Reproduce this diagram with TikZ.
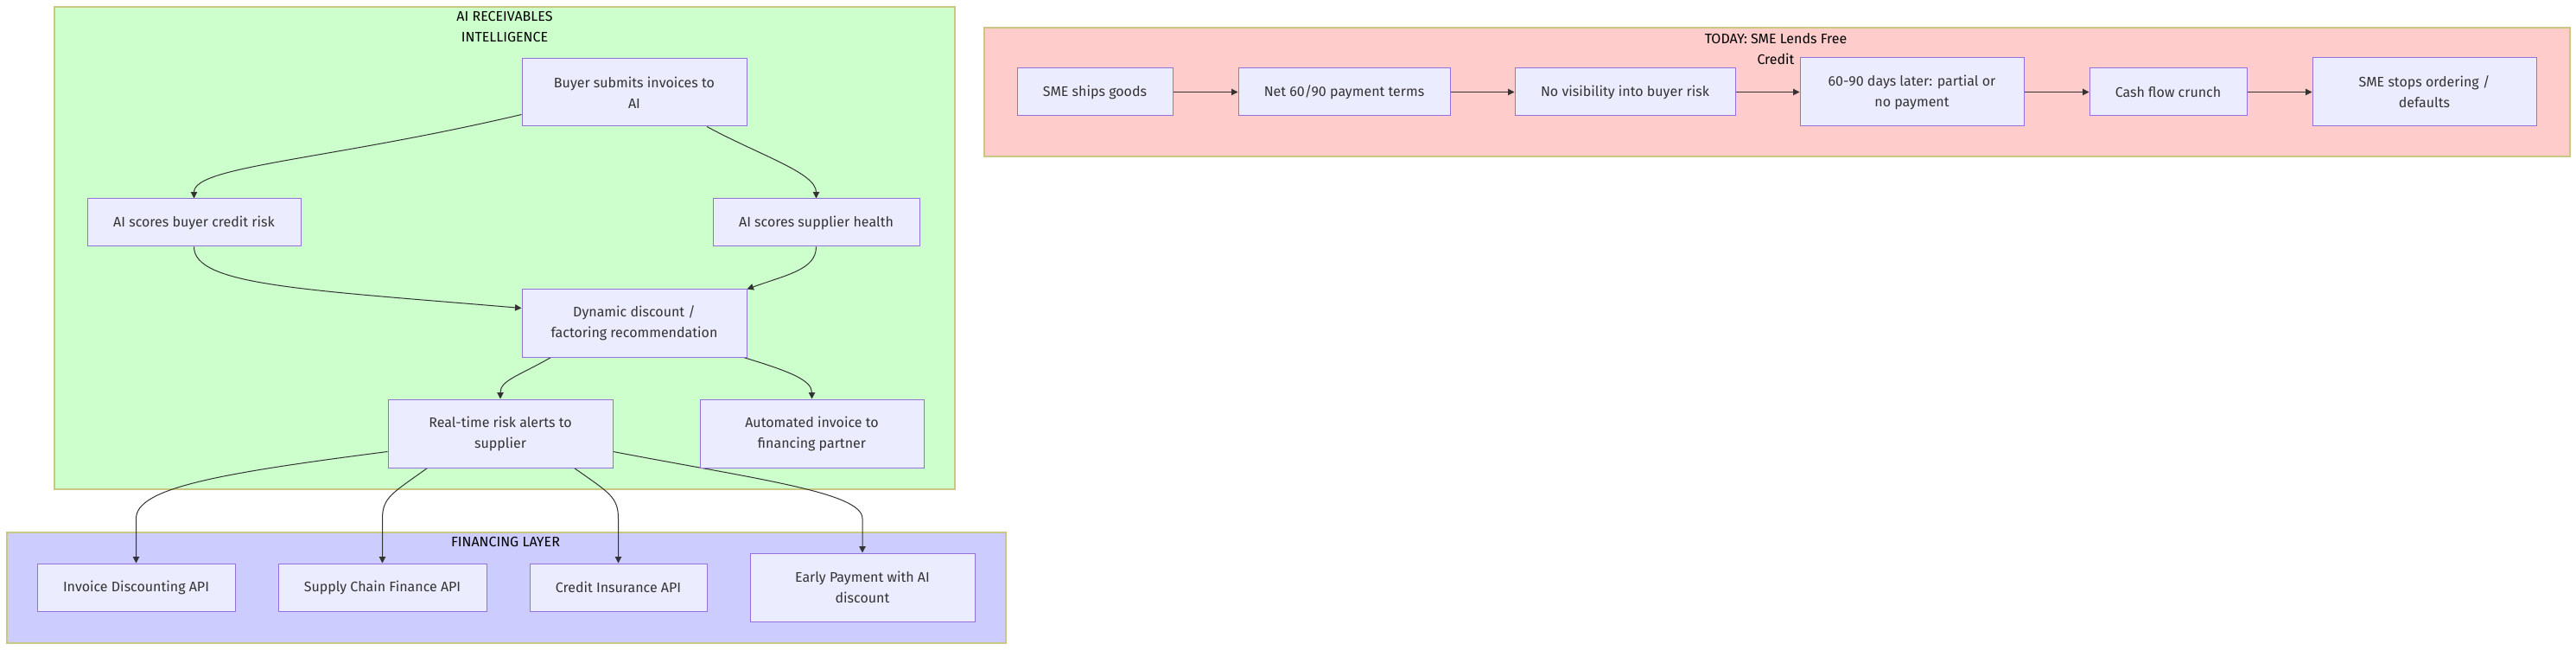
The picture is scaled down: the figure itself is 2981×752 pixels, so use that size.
\documentclass[tikz,border=0pt]{standalone}
\usepackage{fontspec}
\setmainfont{Fira Sans}
\usetikzlibrary{arrows.meta,calc}
\definecolor{nodefill}{HTML}{ECECFF}
\definecolor{nodeline}{HTML}{9370DB}
\definecolor{grn}{HTML}{CCFFCC}
\definecolor{rd}{HTML}{FFCCCC}
\definecolor{bl}{HTML}{CCCCFF}
\definecolor{clline}{HTML}{C8C882}
\definecolor{txt}{HTML}{333333}
\pgfdeclarelayer{bg}
\pgfdeclarelayer{edgelayer}
\pgfsetlayers{bg,edgelayer,main}
\tikzset{
  box/.style={draw=nodeline, fill=nodefill, line width=0.75pt, text=txt,
    font=\fontsize{12}{18}\selectfont, align=center, inner sep=0pt},
  cluster/.style={draw=clline, line width=1.5pt},
  ttl/.style={text=black, font=\fontsize{12}{18}\selectfont, align=center, inner sep=0pt},
  edge/.style={draw=txt, line width=0.75pt, -{Triangle[length=5.6pt,width=5.6pt]}}
}
\begin{document}
\begin{tikzpicture}[x=0.75pt,y=-0.75pt]
\useasboundingbox (0,0) rectangle (2981,752);
% clusters
\begin{pgfonlayer}{bg}
\fill[white] (0,0) rectangle (2981,752);
\draw[cluster, fill=grn] (63,8) rectangle (1105,566);
\draw[cluster, fill=bl] (8,616) rectangle (1164,744);
\draw[cluster, fill=rd] (1139,32) rectangle (2974,181);
\end{pgfonlayer}
\node[ttl] (gt) at (584,31) {AI RECEIVABLES\\INTELLIGENCE};
\node[ttl] (bt) at (585,627) {FINANCING LAYER};
\node[ttl] (rt0) at (2055,57) {TODAY: SME Lends Free\\Credit};
% green nodes
\node[box, minimum width=195pt, minimum height=58.5pt] (buyer) at (734,107) {Buyer submits invoices to\\AI};
\node[box, minimum width=185.25pt, minimum height=41.25pt] (bcr) at (224.5,257.5) {AI scores buyer credit risk};
\node[box, minimum width=179.25pt, minimum height=41.25pt] (sh) at (944.5,257.5) {AI scores supplier health};
\node[box, minimum width=195pt, minimum height=58.5pt] (dyn) at (734,374) {Dynamic discount /\\factoring recommendation};
\node[box, minimum width=195pt, minimum height=59.25pt] (rt) at (579,501.5) {Real-time risk alerts to\\supplier};
\node[box, minimum width=194.25pt, minimum height=59.25pt] (auto) at (939.5,501.5) {Automated invoice to\\financing partner};
% blue nodes
\node[box, minimum width=171.75pt, minimum height=41.25pt] (inv) at (157.5,679.5) {Invoice Discounting API};
\node[box, minimum width=180.75pt, minimum height=41.25pt] (scf) at (442.5,679.5) {Supply Chain Finance API};
\node[box, minimum width=153.75pt, minimum height=41.25pt] (ci) at (715.5,679.5) {Credit Insurance API};
\node[box, minimum width=195pt, minimum height=59.25pt] (ep) at (998,679.5) {Early Payment with AI\\discount};
% red nodes
\node[box, minimum width=135pt, minimum height=41.25pt] (sme) at (1267,106.5) {SME ships goods};
\node[box, minimum width=183.75pt, minimum height=41.25pt] (net) at (1555.5,106.5) {Net 60/90 payment terms};
\node[box, minimum width=191.25pt, minimum height=41.25pt] (nov) at (1880.5,106.5) {No visibility into buyer risk};
\node[box, minimum width=194.25pt, minimum height=59.25pt] (late) at (2212.5,106.5) {60-90 days later: partial or\\no payment};
\node[box, minimum width=136.5pt, minimum height=41.25pt] (cash) at (2509,106.5) {Cash flow crunch};
\node[box, minimum width=194.25pt, minimum height=59.25pt] (stop) at (2805.5,106.5) {SME stops ordering /\\defaults};
% edges
\begin{pgfonlayer}{edgelayer}
\draw[edge] ($(buyer.south west)+(0,-14)$) .. controls (380,185) and (224.5,192) .. (bcr.north);
\draw[edge] ($(buyer.south)+(84,0)$) .. controls (880,180) and (944.5,200) .. (sh.north);
\draw[edge] (bcr.south) .. controls (224.5,330) and (350,335) .. ($(dyn.north west)+(0,22)$);
\draw[edge] (sh.south) .. controls (944.5,312) and (910,318) .. (dyn.north east);
\draw[edge] ($(dyn.south west)+(34,0)$) .. controls (600,435) and (579,440) .. (rt.north);
\draw[edge] ($(dyn.south east)+(-4,0)$) .. controls (915,430) and (939.5,440) .. (auto.north);
\draw[edge] ($(rt.south west)+(0,-19)$) .. controls (250,548) and (157.5,565) .. (157.5,600) -- (inv.north);
\draw[edge] ($(rt.south west)+(46,0)$) .. controls (455,570) and (442.5,575) .. (442.5,600) -- (scf.north);
\draw[edge] ($(rt.south east)+(-45,0)$) .. controls (705,570) and (715.5,575) .. (715.5,600) -- (ci.north);
\draw[edge] ($(rt.south east)+(0,-19)$) .. controls (880,555) and (998,570) .. (998,600) -- (ep.north);
\draw[edge] (sme.east) -- (net.west);
\draw[edge] (net.east) -- (nov.west);
\draw[edge] (nov.east) -- (late.west);
\draw[edge] (late.east) -- (cash.west);
\draw[edge] (cash.east) -- (stop.west);
\end{pgfonlayer}
\end{tikzpicture}
\end{document}
